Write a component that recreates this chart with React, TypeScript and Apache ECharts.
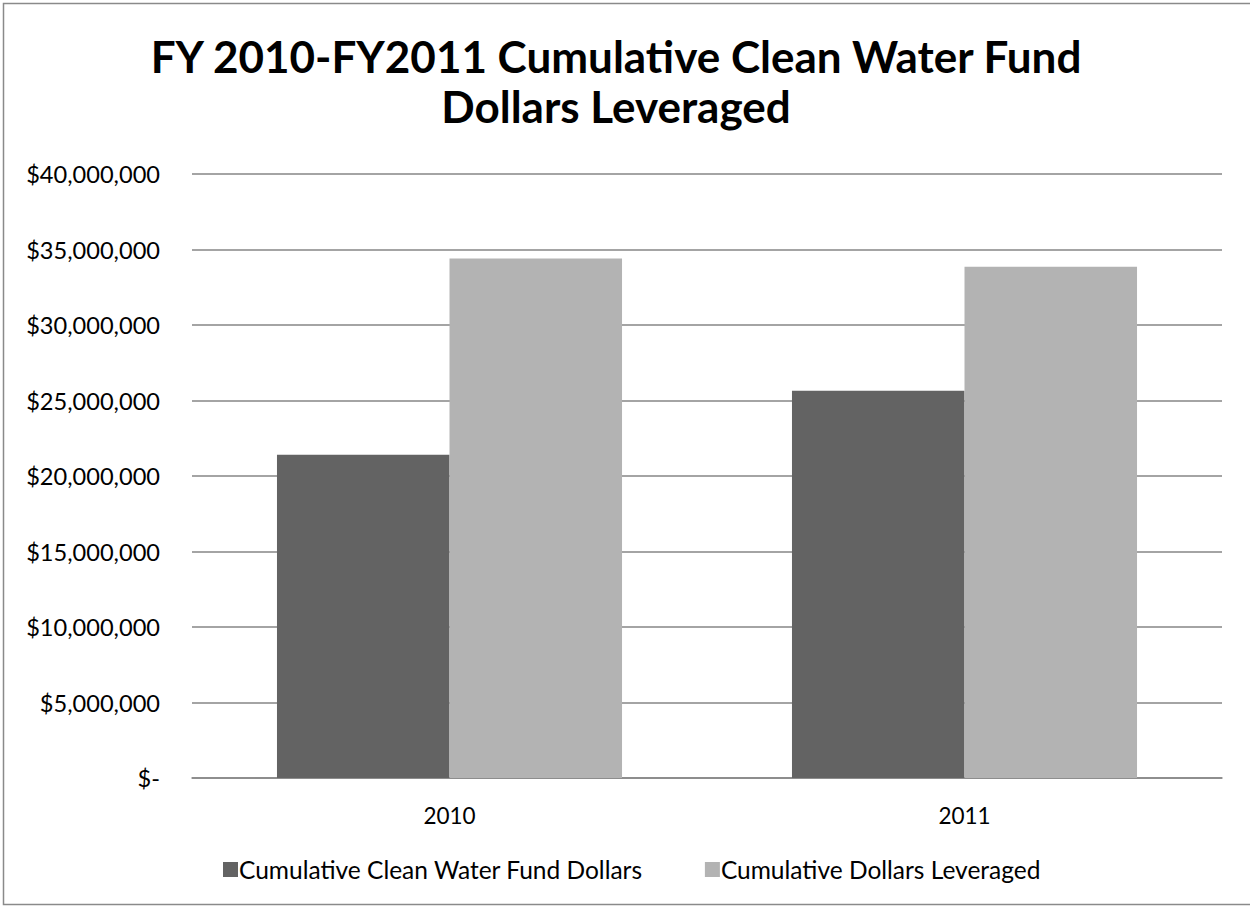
import React, { useEffect, useRef } from "react";
import * as echarts from "echarts";

const categories = ["2010", "2011"];
const seriesNames = ["Cumulative Clean Water Fund Dollars", "Cumulative Dollars Leveraged"];
const cleanWaterFund = [21400000, 25650000];
const dollarsLeveraged = [34400000, 33850000];
const titleLines = ["FY 2010-FY2011 Cumulative Clean Water Fund", "Dollars Leveraged"];

const FONT = "Lato";

export default function App() {
  const ref = useRef<HTMLDivElement>(null);
  useEffect(() => {
    if (!ref.current) return;
    const chart = echarts.init(ref.current, undefined, { renderer: "svg" });
    chart.setOption({
      animation: false,
      backgroundColor: "#ffffff",
      textStyle: { fontFamily: FONT },
      graphic: [
        {
          type: "rect",
          shape: { x: 3.5, y: 3.5, width: 1260, height: 901 },
          style: { fill: "none", stroke: "#8a8a8a", lineWidth: 1.5 },
          silent: true,
        },
      ],
      title: {
        text: titleLines.join("\n"),
        left: 611,
        textAlign: "center",
        top: 26,
        textStyle: {
          fontFamily: FONT,
          fontWeight: "bold",
          fontSize: 44,
          lineHeight: 50,
          color: "#000000",
        },
      },
      legend: {
        bottom: 22,
        left: 218,
        itemWidth: 15,
        itemHeight: 15,
        itemGap: 62,
        icon: "rect",
        textStyle: { fontFamily: FONT, fontSize: 24.5, color: "#000000", padding: [0, 0, 0, -4] },
        data: seriesNames,
      },
      grid: { left: 192, right: 28, top: 174, bottom: 131 },
      xAxis: {
        type: "category",
        data: categories,
        axisTick: { show: false },
        axisLine: { lineStyle: { color: "#868686", width: 1.5 } },
        axisLabel: { fontFamily: FONT, fontSize: 22.5, color: "#000000", margin: 26 },
      },
      yAxis: {
        type: "value",
        min: 0,
        max: 40000000,
        interval: 5000000,
        axisLine: { show: false },
        axisTick: { show: false },
        splitLine: { lineStyle: { color: "#868686", width: 1.5 } },
        axisLabel: {
          fontFamily: FONT,
          fontSize: 23.6,
          color: "#000000",
          margin: 32,
          formatter: (v: number) => (v === 0 ? "$-" : "$" + v.toLocaleString("en-US")),
        },
      },
      series: [
        {
          name: seriesNames[0],
          type: "bar",
          data: cleanWaterFund,
          itemStyle: { color: "#636363" },
          barGap: "0%",
          barCategoryGap: "33%",
        },
        {
          name: seriesNames[1],
          type: "bar",
          data: dollarsLeveraged,
          itemStyle: { color: "#b3b3b3" },
          barGap: "0%",
          barCategoryGap: "33%",
        },
      ],
    });
    return () => chart.dispose();
  }, []);
  return (
    <div
      ref={ref}
      style={{ position: "fixed", left: 0, top: 0, width: 1250, height: 909 }}
    />
  );
}
